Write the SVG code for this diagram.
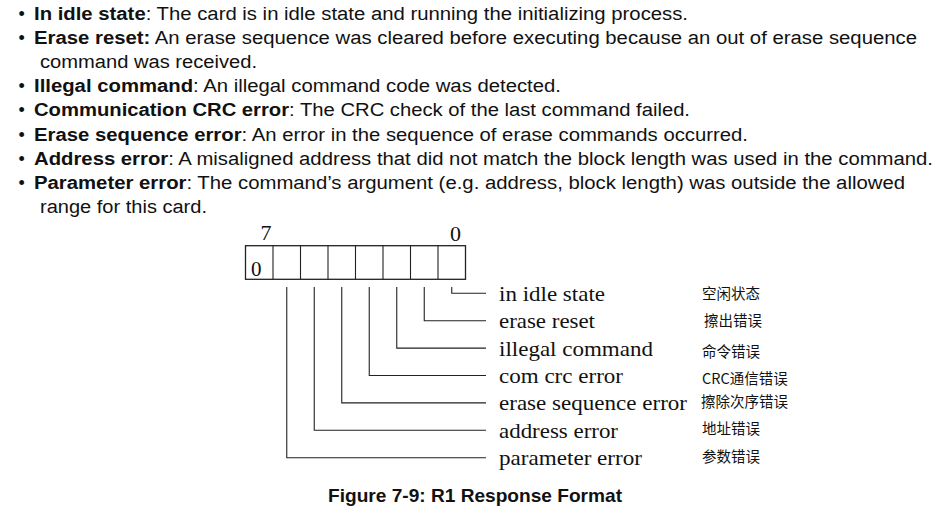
<svg xmlns="http://www.w3.org/2000/svg" width="945" height="521" viewBox="0 0 945 521">
<style>
.t{font-family:"Liberation Sans",Arial,sans-serif;font-size:18px;fill:#111}
.b{font-weight:bold}
.s{font-family:"Liberation Serif","Times New Roman",serif;font-size:21px;fill:#111}
.c{font-family:"Noto Sans CJK SC","Noto Sans",sans-serif;font-size:14.5px;fill:#111}
.cap{font-family:"Liberation Sans",Arial,sans-serif;font-size:18.5px;font-weight:bold;fill:#111}
.ln{fill:none;stroke:#222;stroke-width:1.1}
.box{fill:#fff;stroke:#222;stroke-width:1.3}
</style>
<rect width="945" height="521" fill="#fff"/>
<g id="description">
<text class="t" x="18.5" y="19.5">•</text>
<text class="t" x="34" y="19.5" textLength="654" lengthAdjust="spacingAndGlyphs"><tspan class="b">In idle state</tspan>: The card is in idle state and running the initializing process.</text>
<text class="t" x="18.5" y="43.7">•</text>
<text class="t" x="34" y="43.7" textLength="883" lengthAdjust="spacingAndGlyphs"><tspan class="b">Erase reset:</tspan> An erase sequence was cleared before executing because an out of erase sequence</text>
<text class="t" x="40" y="67.9" textLength="217" lengthAdjust="spacingAndGlyphs">command was received.</text>
<text class="t" x="18.5" y="92.1">•</text>
<text class="t" x="34" y="92.1" textLength="527" lengthAdjust="spacingAndGlyphs"><tspan class="b">Illegal command</tspan>: An illegal command code was detected.</text>
<text class="t" x="18.5" y="116.3">•</text>
<text class="t" x="34" y="116.3" textLength="656" lengthAdjust="spacingAndGlyphs"><tspan class="b">Communication CRC error</tspan>: The CRC check of the last command failed.</text>
<text class="t" x="18.5" y="140.5">•</text>
<text class="t" x="34" y="140.5" textLength="714" lengthAdjust="spacingAndGlyphs"><tspan class="b">Erase sequence error</tspan>: An error in the sequence of erase commands occurred.</text>
<text class="t" x="18.5" y="164.7">•</text>
<text class="t" x="34" y="164.7" textLength="899" lengthAdjust="spacingAndGlyphs"><tspan class="b">Address error</tspan>: A misaligned address that did not match the block length was used in the command.</text>
<text class="t" x="18.5" y="188.9">•</text>
<text class="t" x="34" y="188.9" textLength="871" lengthAdjust="spacingAndGlyphs"><tspan class="b">Parameter error</tspan>: The command’s argument (e.g. address, block length) was outside the allowed</text>
<text class="t" x="40" y="213.1" textLength="167" lengthAdjust="spacingAndGlyphs">range for this card.</text>
</g>
<g id="register">
<rect class="box" x="245.5" y="245.7" width="220" height="33.6"/>
<path class="ln" d="M273 245.7V279.3M300.5 245.7V279.3M328 245.7V279.3M355.5 245.7V279.3M383 245.7V279.3M410.5 245.7V279.3M438 245.7V279.3"/>
<text class="s" x="260.5" y="240" style="font-size:22px">7</text>
<text class="s" x="450" y="240.5" style="font-size:22px">0</text>
<text class="s" x="251" y="276" style="font-size:21px">0</text>
</g>
<g id="connectors">
<path class="ln" d="M451.75 287V293.3H486"/>
<path class="ln" d="M424.25 287V320.7H486"/>
<path class="ln" d="M396.75 287V348.1H486"/>
<path class="ln" d="M369.25 287V375.5H486"/>
<path class="ln" d="M341.75 287V402.9H486"/>
<path class="ln" d="M314.25 287V430.3H486"/>
<path class="ln" d="M286.75 287V457.7H486"/>
</g>
<g id="bit0"><text class="s" x="499" y="300.8" textLength="106" lengthAdjust="spacingAndGlyphs">in idle state</text><text class="c" x="702" y="299">空闲状态</text></g>
<g id="bit1"><text class="s" x="499" y="328.2" textLength="96" lengthAdjust="spacingAndGlyphs">erase reset</text><text class="c" x="704" y="326">擦出错误</text></g>
<g id="bit2"><text class="s" x="499" y="355.6" textLength="154" lengthAdjust="spacingAndGlyphs">illegal command</text><text class="c" x="702" y="356.5">命令错误</text></g>
<g id="bit3"><text class="s" x="499" y="383" textLength="124" lengthAdjust="spacingAndGlyphs">com crc error</text><text class="c" x="702" y="383.5">CRC通信错误</text></g>
<g id="bit4"><text class="s" x="499" y="410.4" textLength="188" lengthAdjust="spacingAndGlyphs">erase sequence error</text><text class="c" x="701" y="406.5">擦除次序错误</text></g>
<g id="bit5"><text class="s" x="499" y="437.8" textLength="119" lengthAdjust="spacingAndGlyphs">address error</text><text class="c" x="702" y="434">地址错误</text></g>
<g id="bit6"><text class="s" x="499" y="465.2" textLength="143" lengthAdjust="spacingAndGlyphs">parameter error</text><text class="c" x="702" y="462">参数错误</text></g>
<g id="caption"><text class="cap" x="328" y="501.5" textLength="294" lengthAdjust="spacingAndGlyphs">Figure 7-9: R1 Response Format</text></g>
</svg>
